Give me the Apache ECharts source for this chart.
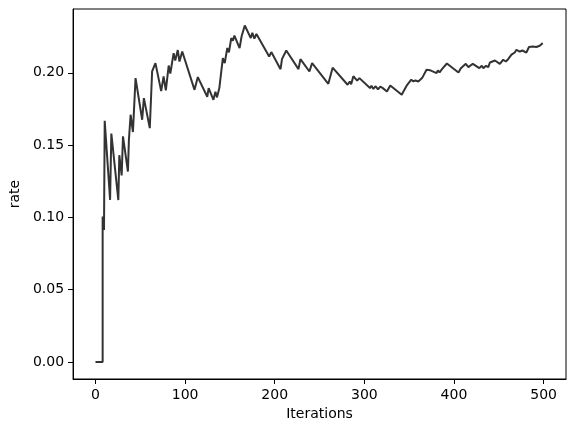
<!DOCTYPE html>
<html>
<head>
<meta charset="utf-8">
<script src="https://cdn.jsdelivr.net/npm/echarts@6/dist/echarts.min.js"></script>
<style>
html,body{margin:0;padding:0;background:#fff;}
#chart{width:576px;height:432px;}
</style>
</head>
<body>
<div id="chart"></div>
<script>
// Vertex readings of the curve (iteration, rate)
const iterations = [0, 8, 8, 9.5, 10.3, 16.3, 17.7, 25.5, 26.6, 29.2, 30.7, 36.2, 37.3, 39.2, 41.8, 44.7, 52.1, 54, 60.6, 63.2, 66.9, 73.3, 76, 78.5, 81.7, 83.5, 87.2, 89, 91.8, 93.7, 96.8, 110.5, 114.2, 124.7, 126.3, 131.6, 133.8, 135.6, 138.2, 142.1, 144.2, 147.1, 148.9, 151.5, 153.3, 155, 160.8, 163, 166.6, 173.3, 175, 177.3, 179.6, 193.8, 196.2, 206.5, 208.1, 212.9, 226.5, 228.7, 238.7, 241.7, 259.8, 264.6, 281.3, 283.8, 285.3, 287.7, 292, 294.5, 306.3, 307.9, 310.1, 312.6, 315.2, 317.8, 320.6, 321.8, 325.2, 328.9, 341.7, 343.6, 347.8, 352.4, 354.7, 357, 360.2, 361.4, 364.4, 369.4, 371, 373.6, 380.6, 382.1, 383.9, 386.6, 388.4, 392.1, 405, 407.7, 409.9, 413.2, 416.1, 421, 428.3, 431, 432.8, 435.7, 438.3, 440.1, 445.7, 451.2, 454.9, 457.9, 460.4, 464.2, 467.8, 469.7, 473.4, 476.4, 480.8, 483.7, 488.1, 491.9, 495.6, 499];
const rates = [0, 0, 0.1006, 0.0913, 0.1668, 0.1121, 0.158, 0.112, 0.143, 0.129, 0.156, 0.1317, 0.1536, 0.171, 0.159, 0.1963, 0.1675, 0.1825, 0.1617, 0.2009, 0.2067, 0.1873, 0.1974, 0.1878, 0.205, 0.1995, 0.2136, 0.2084, 0.2157, 0.2078, 0.2147, 0.1882, 0.197, 0.1834, 0.1894, 0.1813, 0.1868, 0.183, 0.1894, 0.2102, 0.2067, 0.2171, 0.2141, 0.224, 0.2222, 0.2257, 0.2171, 0.2251, 0.2327, 0.224, 0.2277, 0.2236, 0.2268, 0.2113, 0.2143, 0.2025, 0.2094, 0.2154, 0.2025, 0.2094, 0.2009, 0.2067, 0.1924, 0.2035, 0.1917, 0.194, 0.192, 0.1976, 0.1946, 0.1963, 0.1894, 0.191, 0.1888, 0.1907, 0.1885, 0.1905, 0.1894, 0.1901, 0.1871, 0.1912, 0.1848, 0.187, 0.1917, 0.1952, 0.194, 0.1947, 0.194, 0.1952, 0.1963, 0.2021, 0.2012, 0.2017, 0.1998, 0.2016, 0.2002, 0.2025, 0.2016, 0.2064, 0.2002, 0.2032, 0.2021, 0.2062, 0.2039, 0.2062, 0.2032, 0.2048, 0.2032, 0.2048, 0.2039, 0.2071, 0.2085, 0.2062, 0.209, 0.2078, 0.2094, 0.2125, 0.214, 0.2159, 0.2147, 0.2154, 0.214, 0.2178, 0.2182, 0.2178, 0.2187, 0.2205];
const xTicks = [0, 100, 200, 300, 400, 500];
const yTicks = [0, 0.05, 0.10, 0.15, 0.20];

const seriesData = iterations.map((x, i) => [x, rates[i]]);
const font = 'DejaVu Sans';
const X_MIN = -25, X_MAX = 525, Y_MIN = -0.01176, Y_MAX = 0.2441;
const chart = echarts.init(document.getElementById('chart'), null, {renderer: 'canvas'});
chart.setOption({
  animation: false,
  backgroundColor: '#fff',
  grid: {left: 68, right: 10, top: 9, bottom: 53, show: true, borderColor: '#000', borderWidth: 1, containLabel: false},
  xAxis: {
    type: 'value', min: X_MIN, max: X_MAX,
    name: 'Iterations', nameLocation: 'middle', nameGap: 27,
    nameTextStyle: {fontFamily: font, fontSize: 14, color: '#000'},
    axisLine: {show: true, onZero: false, lineStyle: {color: '#000', width: 1}},
    axisTick: {show: true, length: 5, lineStyle: {color: '#000', width: 1}, customValues: xTicks},
    axisLabel: {fontFamily: font, fontSize: 14, color: '#000', margin: 9, customValues: xTicks, formatter: v => String(v)},
    splitLine: {show: false}
  },
  yAxis: {
    type: 'value', min: Y_MIN, max: Y_MAX,
    name: 'rate', nameLocation: 'middle', nameGap: 44, nameRotate: 90,
    nameTextStyle: {fontFamily: font, fontSize: 14, color: '#000'},
    axisLine: {show: true, onZero: false, lineStyle: {color: '#000', width: 1}},
    axisTick: {show: true, length: 5, lineStyle: {color: '#000', width: 1}, customValues: yTicks},
    axisLabel: {fontFamily: font, fontSize: 14, color: '#000', margin: 9, customValues: yTicks, formatter: v => v.toFixed(2)},
    splitLine: {show: false}
  },
  series: [{
    type: 'line', data: seriesData, showSymbol: false, symbol: 'none',
    lineStyle: {color: '#333333', width: 2}, z: 3
  }]
});
</script>
</body>
</html>
